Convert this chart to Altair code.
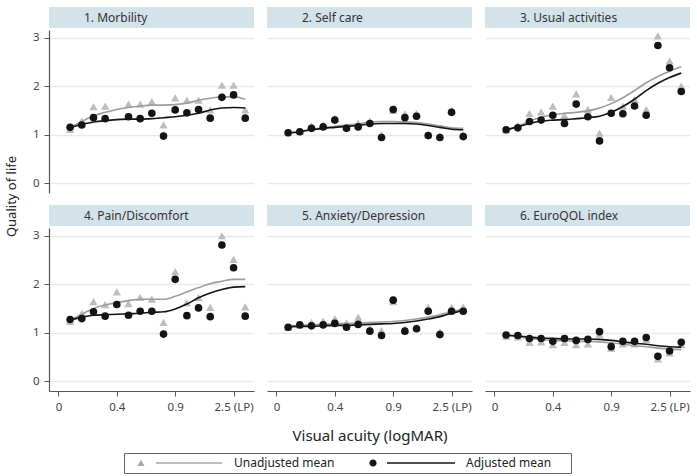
import altair as alt
import pandas as pd

FONT = "Noto Sans"

# Visual-acuity categories (ordered), ticks at selected logMAR values
acuity_index = list(range(1, 17))
tick_index = [0, 5, 10, 15]
tick_text = ["0", "0.4", "0.9", "2.5 (LP)"]
y_ticks = [0, 1, 2, 3]

panel_titles = ["1. Morbility", "2. Self care", "3. Usual activities",
                "4. Pain/Discomfort", "5. Anxiety/Depression", "6. EuroQOL index"]
series_names = ["Unadjusted mean", "Adjusted mean"]

# 1. Morbility (no observation in category 5)
morbility_unadj = [1.11, 1.28, 1.58, 1.59, None, 1.63, 1.63, 1.68, 1.20, 1.76, 1.71, 1.71, 1.51, 2.02, 2.02, 1.51]
morbility_adj = [1.15, 1.20, 1.35, 1.33, None, 1.37, 1.33, 1.44, 0.97, 1.51, 1.45, 1.52, 1.34, 1.77, 1.82, 1.34]
morbility_unadj_fit = [1.15, 1.27, 1.39, 1.46, 1.52, 1.56, 1.59, 1.61, 1.61, 1.62, 1.65, 1.71, 1.75, 1.78, 1.78, 1.73]
morbility_adj_fit = [1.15, 1.21, 1.26, 1.29, 1.31, 1.32, 1.32, 1.33, 1.35, 1.37, 1.40, 1.44, 1.51, 1.55, 1.56, 1.55]

# 2. Self care
selfcare_unadj = [1.04, 1.07, 1.18, 1.20, 1.34, 1.16, 1.24, 1.28, 1.00, 1.50, 1.43, 1.44, 1.00, 0.98, 1.50, 1.00]
selfcare_adj = [1.04, 1.06, 1.13, 1.16, 1.30, 1.13, 1.16, 1.23, 0.94, 1.52, 1.35, 1.38, 0.98, 0.94, 1.46, 0.96]
selfcare_unadj_fit = [1.04, 1.07, 1.11, 1.14, 1.17, 1.20, 1.22, 1.26, 1.27, 1.27, 1.26, 1.25, 1.22, 1.18, 1.14, 1.13]
selfcare_adj_fit = [1.03, 1.06, 1.10, 1.13, 1.15, 1.17, 1.19, 1.22, 1.23, 1.23, 1.23, 1.22, 1.19, 1.15, 1.11, 1.10]

# 3. Usual activities
usual_unadj = [1.10, 1.19, 1.44, 1.47, 1.59, 1.40, 1.84, 1.52, 1.03, 1.77, 1.59, 1.73, 1.52, 3.04, 2.52, 2.00]
usual_adj = [1.10, 1.14, 1.27, 1.30, 1.40, 1.23, 1.63, 1.37, 0.87, 1.44, 1.43, 1.59, 1.40, 2.84, 2.38, 1.89]
usual_unadj_fit = [1.10, 1.17, 1.28, 1.36, 1.41, 1.44, 1.46, 1.49, 1.55, 1.64, 1.76, 1.91, 2.07, 2.20, 2.31, 2.40]
usual_adj_fit = [1.10, 1.16, 1.23, 1.28, 1.30, 1.31, 1.33, 1.35, 1.38, 1.46, 1.58, 1.73, 1.91, 2.06, 2.18, 2.27]

# 4. Pain/Discomfort
pain_unadj = [1.23, 1.40, 1.64, 1.58, 1.84, 1.60, 1.73, 1.69, 1.21, 2.26, 1.62, 1.73, 1.52, 3.00, 2.51, 1.53]
pain_adj = [1.27, 1.29, 1.43, 1.34, 1.58, 1.36, 1.44, 1.44, 0.97, 2.10, 1.35, 1.51, 1.33, 2.81, 2.34, 1.34]
pain_unadj_fit = [1.25, 1.38, 1.50, 1.57, 1.62, 1.66, 1.69, 1.69, 1.69, 1.75, 1.84, 1.93, 2.01, 2.06, 2.10, 2.10]
pain_adj_fit = [1.26, 1.32, 1.36, 1.37, 1.38, 1.39, 1.40, 1.42, 1.43, 1.49, 1.59, 1.72, 1.82, 1.89, 1.94, 1.95]

# 5. Anxiety/Depression
anxiety_unadj = [1.11, 1.16, 1.21, 1.24, 1.29, 1.20, 1.32, 1.08, 1.04, 1.64, 1.08, 1.11, 1.52, 1.02, 1.52, 1.53]
anxiety_adj = [1.11, 1.16, 1.14, 1.16, 1.19, 1.11, 1.17, 1.03, 0.94, 1.67, 1.03, 1.08, 1.44, 0.96, 1.44, 1.44]
anxiety_unadj_fit = [1.14, 1.15, 1.16, 1.17, 1.18, 1.19, 1.20, 1.21, 1.22, 1.23, 1.25, 1.28, 1.32, 1.37, 1.43, 1.48]
anxiety_adj_fit = [1.12, 1.13, 1.13, 1.14, 1.15, 1.15, 1.16, 1.17, 1.18, 1.19, 1.21, 1.24, 1.28, 1.33, 1.40, 1.46]

# 6. EuroQOL index
euroqol_unadj = [0.93, 0.91, 0.80, 0.81, 0.75, 0.80, 0.75, 0.77, 0.97, 0.68, 0.77, 0.77, 0.86, 0.46, 0.58, 0.75]
euroqol_adj = [0.95, 0.94, 0.88, 0.88, 0.82, 0.88, 0.84, 0.86, 1.02, 0.71, 0.82, 0.82, 0.90, 0.51, 0.62, 0.80]
euroqol_unadj_fit = [0.94, 0.91, 0.88, 0.86, 0.84, 0.83, 0.82, 0.82, 0.81, 0.79, 0.76, 0.73, 0.71, 0.68, 0.66, 0.65]
euroqol_adj_fit = [0.95, 0.93, 0.91, 0.89, 0.88, 0.87, 0.87, 0.87, 0.86, 0.84, 0.81, 0.78, 0.76, 0.73, 0.71, 0.70]

panel_series = [
    (morbility_unadj, morbility_adj, morbility_unadj_fit, morbility_adj_fit),
    (selfcare_unadj, selfcare_adj, selfcare_unadj_fit, selfcare_adj_fit),
    (usual_unadj, usual_adj, usual_unadj_fit, usual_adj_fit),
    (pain_unadj, pain_adj, pain_unadj_fit, pain_adj_fit),
    (anxiety_unadj, anxiety_adj, anxiety_unadj_fit, anxiety_adj_fit),
    (euroqol_unadj, euroqol_adj, euroqol_unadj_fit, euroqol_adj_fit),
]

# Styling
W, H = 205, 163
TRI_GRAY = "#bdbdbd"
LINE_GRAY = "#9c9c9c"
BLACK = "#141414"
HEADER_FILL = "#d4e2ea"
GRID = "#e3e9ed"
AXIS = "#555555"
TEXT = "#333333"

x_scale = alt.Scale(domain=[-0.81, 16.75], nice=False, zero=False)
y_scale = alt.Scale(domain=[-0.205, 3.16], nice=False, zero=False)

label_expr = " : ".join(
    f"datum.value == {v} ? '{t}'" for v, t in zip(tick_index, tick_text)
) + " : ''"

# Legend symbols: marker followed by a short line segment (custom symbol paths)
legend_paths = [
    "M-0.9,0.75 L0,-0.8 L0.9,0.75 Z M3.75,-0.2 L20.25,-0.2 L20.25,0.2 L3.75,0.2 Z",
    "M-0.9,0 A0.9,0.9 0 1,1 0.9,0 A0.9,0.9 0 1,1 -0.9,0 Z M3.5,-0.2 L20.5,-0.2 L20.5,0.2 L3.5,0.2 Z M48.5,0",
]
legend_fill = ["#a8a8a8", BLACK]

key = alt.Legend(
    title=None, orient="none", legendX=75, legendY=423,
    direction="horizontal", columns=2, columnPadding=25,
    padding=4, strokeColor="#666666",
    symbolSize=64, symbolStrokeWidth=0, symbolOffset=7, labelOffset=87,
    labelFont=FONT, labelFontSize=12, labelColor="#222222",
)


def make_panel(k):
    row, col = divmod(k, 3)
    unadj, adj, unadj_fit, adj_fit = panel_series[k]
    df = pd.DataFrame({
        "idx": acuity_index,
        "unadj": unadj,
        "adj": adj,
        "unadj_fit": unadj_fit,
        "adj_fit": adj_fit,
    })

    if row == 1:
        x_axis = alt.Axis(
            values=tick_index, labelExpr=label_expr, grid=False,
            domainColor=AXIS, domainWidth=1.2, tickColor=AXIS, tickSize=5,
            labelFontSize=11.5, labelColor="#444444", labelPadding=5,
            labelFlush=False, labelOverlap=False,
            title="Visual acuity (logMAR)" if col == 1 else None,
            titleFontSize=15, titleFontWeight="normal", titleColor="#222222",
            titleX=W / 2, titleY=44, titleBaseline="middle",
        )
    else:
        x_axis = None

    if col == 0:
        y_axis = alt.Axis(
            values=y_ticks, grid=True, gridColor=GRID, gridWidth=1.5,
            domainColor=AXIS, domainWidth=1.2, tickColor=AXIS, tickSize=5,
            labelFontSize=11.5, labelColor="#444444", labelPadding=5,
            title="Quality of life" if row == 0 else None,
            titleFontSize=13, titleFontWeight="normal", titleColor="#222222",
            titleX=-38, titleY=166, titleAngle=270,
            titleAlign="center", titleBaseline="middle",
        )
    else:
        y_axis = alt.Axis(
            values=y_ticks, grid=True, gridColor=GRID, gridWidth=1.5,
            domain=False, ticks=False, labels=False, title=None,
        )

    base = alt.Chart(df)
    x_enc = alt.X("idx:Q", scale=x_scale, axis=x_axis)

    tri = base.mark_point(shape="triangle-up", filled=True, size=70,
                          color=TRI_GRAY, opacity=1).encode(
        x=x_enc, y=alt.Y("unadj:Q", scale=y_scale, axis=y_axis)
    ).transform_filter("isValid(datum.unadj)")

    gray_line = base.mark_line(color=LINE_GRAY, strokeWidth=1.6,
                               interpolate="monotone").encode(
        x=x_enc, y=alt.Y("unadj_fit:Q", scale=y_scale, axis=y_axis)
    )
    black_line = base.mark_line(color=BLACK, strokeWidth=1.6,
                                interpolate="monotone").encode(
        x=x_enc, y=alt.Y("adj_fit:Q", scale=y_scale, axis=y_axis)
    )
    dots = base.mark_point(shape="circle", filled=True, size=58,
                           color=BLACK, opacity=1).encode(
        x=x_enc, y=alt.Y("adj:Q", scale=y_scale, axis=y_axis)
    ).transform_filter("isValid(datum.adj)")

    head_df = pd.DataFrame({"title": [panel_titles[k]]})
    header = alt.Chart(head_df).mark_rect(color=HEADER_FILL).encode(
        x=alt.value(0), x2=alt.value(W), y=alt.value(-23), y2=alt.value(-2)
    )
    header_text = alt.Chart(head_df).mark_text(
        align="left", baseline="middle", font=FONT, fontSize=12, color=TEXT
    ).encode(x=alt.value(35), y=alt.value(-12.5), text="title:N")

    layers = [header, header_text, tri, gray_line, black_line, dots]

    if k == 4:
        key_df = pd.DataFrame({"series": series_names})
        key_layer = alt.Chart(key_df).mark_point(
            filled=True, opacity=1, size=64, strokeWidth=0
        ).encode(
            x=alt.value(0), y=alt.value(0),
            shape=alt.Shape("series:N", scale=alt.Scale(domain=series_names, range=legend_paths), legend=key),
            color=alt.Color("series:N", scale=alt.Scale(domain=series_names, range=legend_fill), legend=key),
        ).transform_filter("false")
        layers.append(key_layer)

    return alt.layer(*layers).properties(width=W, height=H)


chart = alt.ConcatChart(
    concat=[make_panel(k) for k in range(6)],
    columns=3,
    spacing={"row": 35, "column": 13},
    bounds="flush",
).properties(
    padding={"left": 5, "top": 7, "right": 5, "bottom": 3},
).configure(
    font=FONT,
).configure_view(
    stroke=None,
)

chart.save("out.html", embed_options={"renderer": "svg", "actions": False})
